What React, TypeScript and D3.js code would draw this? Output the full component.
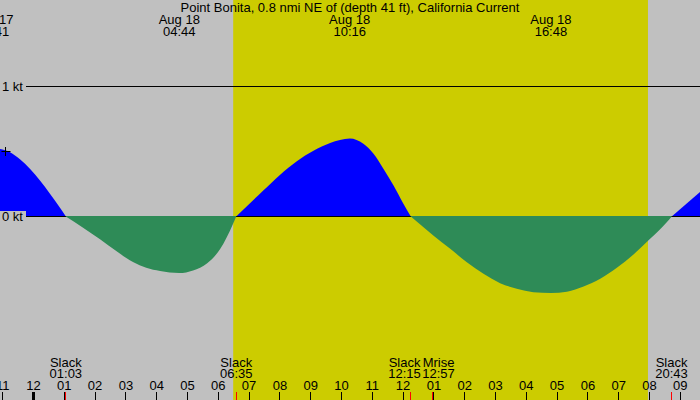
import React from 'react';
import * as d3 from 'd3';

// current samples, hours from midnight Aug 18 (negative = Aug 17)
const sampleHours = [
  -1.09, -0.76, -0.44, -0.11, 0.21, 0.54, 0.86, 1.05, 1.61, 2.16, 2.71, 3.23,
  3.66, 4.11, 4.73, 5.18, 5.64, 6.06, 6.48, 6.58, 7.46, 8.0, 8.55, 9.09, 9.63,
  10.27, 10.71, 11.04, 11.36, 11.69, 12.01, 12.25, 12.98, 13.53, 14.07, 14.61,
  15.15, 15.69, 16.23, 16.8, 17.32, 17.86, 18.4, 18.94, 19.48, 20.02, 20.56,
  20.72, 21.65,
];
const knots = [
  0.52, 0.495, 0.44, 0.365, 0.277, 0.174, 0.067, 0, -0.087, -0.175, -0.27,
  -0.35, -0.395, -0.42, -0.435, -0.415, -0.36, -0.25, -0.056, 0, 0.2, 0.32,
  0.425, 0.505, 0.565, 0.6, 0.559, 0.482, 0.367, 0.238, 0.098, 0, -0.146,
  -0.249, -0.352, -0.441, -0.513, -0.556, -0.582, -0.588, -0.578, -0.538,
  -0.479, -0.395, -0.292, -0.172, -0.044, 0, 0.19,
];

// max current labels at the top
const peakDates = ['Aug 17', 'Aug 18', 'Aug 18', 'Aug 18'];
const peakTimes = ['22:41', '04:44', '10:16', '16:48'];

// events along the bottom
const eventNames = ['Slack', 'Slack', 'Slack', 'Mrise', 'Slack'];
const eventTimes = ['01:03', '06:35', '12:15', '12:57', '20:43'];

const sunrise = '06:29';
const sunset = '19:57';

const hourTicks = d3.range(-1, 22);
const kts = [0, 1];

const title = 'Point Bonita, 0.8 nmi NE of (depth 41 ft), California Current';

const W = 700;
const H = 400;

const toHours = (t: string, date = 'Aug 18') => {
  const [hh, mm] = t.split(':').map(Number);
  return hh + mm / 60 - (date === 'Aug 17' ? 24 : 0);
};

const font = '"Liberation Sans", Arial, sans-serif';
const fs = 13;

const App: React.FC = () => {
  const x = d3.scaleLinear().domain([0, 20]).range([33.5, 649.5]);
  const y = d3.scaleLinear().domain([0, 1]).range([216.5, 86.5]);

  // split the series into flood / ebb pieces at each slack
  const pts = sampleHours.map((h, i) => [h, knots[i]] as [number, number]);
  const segs: [number, number][][] = [];
  let cur: [number, number][] = [];
  pts.forEach((p, i) => {
    cur.push(p);
    if (p[1] === 0 && i > 0) {
      segs.push(cur);
      cur = [p];
    }
  });
  if (cur.length > 1) segs.push(cur);

  const area = d3
    .area<[number, number]>()
    .x((d) => x(d[0]))
    .y0(y(0))
    .y1((d) => y(d[1]))
    .curve(d3.curveMonotoneX);

  const flood = segs.filter((s) => d3.max(s, (d) => d[1])! > 0);
  const ebb = segs.filter((s) => d3.min(s, (d) => d[1])! < 0);

  const crisp = (v: number) => Math.floor(v) + 0.5;

  // event label positions, pushed apart when they collide
  const labelW = 32;
  const evX = eventTimes.map((t) => x(toHours(t)));
  const labX = evX.slice();
  for (let i = 1; i < labX.length; i++) {
    const gap = labX[i] - labX[i - 1];
    if (gap < labelW + 2) {
      const push = (labelW + 2 - gap) / 2;
      labX[i - 1] -= push;
      labX[i] += push;
    }
  }

  const hourLabel = (h: number) => {
    const hh = ((h % 12) + 12) % 12 || 12;
    return String(hh).padStart(2, '0');
  };

  return (
    <svg
      width={W}
      height={H}
      style={{ position: 'absolute', left: 0, top: 0, fontFamily: font }}
    >
      <rect width={W} height={H} fill="#c0c0c0" />
      <rect
        x={x(toHours(sunrise))}
        y={0}
        width={x(toHours(sunset)) - x(toHours(sunrise))}
        height={H}
        fill="#cccc00"
      />

      {flood.map((s, i) => (
        <path key={i} d={area.y0(y(0))(s) || ''} fill="#0000ff" />
      ))}

      {kts.map((k) => (
        <line key={k} x1={26} x2={W} y1={y(k)} y2={y(k)} stroke="#000" />
      ))}

      {ebb.map((s, i) => (
        <path key={i} d={area.y0(216)(s) || ''} fill="#2e8b57" />
      ))}

      {/* 0.5 kt cross */}
      <path
        d={`M1.5,${y(0.5)}H10.5M5.5,${y(0.5) - 4.5}V${y(0.5) + 4.5}`}
        stroke="#000"
        fill="none"
      />

      {kts.map((k) => (
        <g key={k}>
          <rect x={0} y={y(k) - 5.5} width={26} height={12} fill="#c0c0c0" />
          <text x={2} y={y(k) + 4.5} fontSize={fs} fill="#000">
            {k} kt
          </text>
        </g>
      ))}

      <text x={W / 2} y={12} fontSize={fs} textAnchor="middle">
        {title}
      </text>
      {peakTimes.map((t, i) => {
        const px = x(toHours(t, peakDates[i]));
        return (
          <g key={i} textAnchor="middle" fontSize={fs}>
            <text x={px} y={24}>
              {peakDates[i]}
            </text>
            <text x={px} y={36}>
              {t}
            </text>
          </g>
        );
      })}

      {eventNames.map((n, i) => (
        <g key={i} textAnchor="middle" fontSize={fs}>
          <text x={labX[i]} y={367}>
            {n}
          </text>
          <text x={labX[i]} y={378}>
            {eventTimes[i]}
          </text>
        </g>
      ))}

      {hourTicks.map((h) => (
        <g key={h}>
          <text x={x(h)} y={390} textAnchor="middle" fontSize={fs}>
            {hourLabel(h)}
          </text>
          <line
            x1={crisp(x(h))}
            x2={crisp(x(h))}
            y1={392}
            y2={H}
            stroke="#000"
            strokeWidth={h === 0 ? 3 : 1}
          />
        </g>
      ))}

      {evX.map((ex, i) => (
        <line
          key={i}
          x1={crisp(ex)}
          x2={crisp(ex)}
          y1={392}
          y2={H}
          stroke="#ff0000"
        />
      ))}
    </svg>
  );
};

export default App;
